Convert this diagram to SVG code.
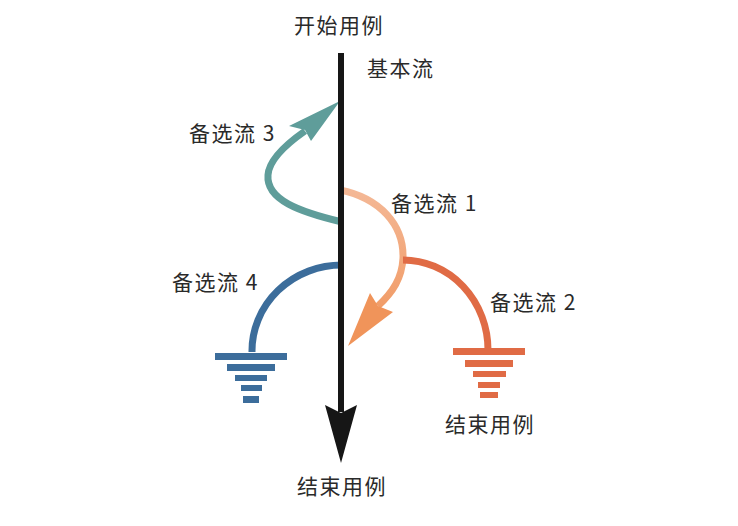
<svg xmlns="http://www.w3.org/2000/svg" width="738" height="526" viewBox="0 0 738 526">
<defs>
<style>
.t{font-family:"Noto Sans CJK SC","Noto Sans",sans-serif;font-size:21px;fill:#2a2a2a;letter-spacing:1.5px}
.c{fill:none;stroke-width:7}
</style>
<linearGradient id="g1" gradientUnits="userSpaceOnUse" x1="0" y1="190" x2="0" y2="345">
<stop offset="0" stop-color="#f4b896"/>
<stop offset="1" stop-color="#f0945a"/>
</linearGradient>
</defs>
<rect width="738" height="526" fill="#ffffff"/>
<g id="connectors">
<g id="alt3">
<path class="c" stroke="#5f9d9a" d="M342,222 C300,212 266,200 268,175 C269,160 285,145 305,131"/>
<polygon points="340,101 289,126 305,130 311,141" fill="#5f9d9a"/>
</g>
<g id="alt1">
<path class="c" stroke="url(#g1)" d="M340,190 C380,198 404,225 403,258 C402,278 393,292 378,306"/>
<polygon points="348,346 370,293 378,306 393,312" fill="#f0945a"/>
</g>
<g id="alt2">
<path class="c" stroke="#e06b45" d="M403,260 A85,90 0 0 1 488,350"/>
</g>
<g id="alt4">
<path class="c" stroke="#3c6d9b" d="M342,265 A90,86 0 0 0 252,352"/>
</g>
<g id="main-flow">
<line x1="341" y1="53" x2="341" y2="412" stroke="#161616" stroke-width="6"/>
<polygon points="341,463 325,405 341,413 357,405" fill="#161616"/>
</g>
</g>
<g id="end-blue" fill="#3c6d9b">
<rect x="215" y="353" width="72" height="7"/>
<rect x="227" y="364" width="48" height="7"/>
<rect x="235" y="375" width="32" height="6"/>
<rect x="241" y="385" width="21" height="6"/>
<rect x="243" y="396" width="16" height="7"/>
</g>
<g id="end-orange" fill="#e06b45">
<rect x="453" y="348" width="72" height="7"/>
<rect x="465" y="360" width="48" height="7"/>
<rect x="473" y="371" width="33" height="6"/>
<rect x="478" y="382" width="22" height="6"/>
<rect x="480" y="392" width="18" height="6"/>
</g>
<g id="label-start"><text class="t" x="339" y="33" text-anchor="middle">开始用例</text></g>
<g id="label-basic"><text class="t" x="367" y="76">基本流</text></g>
<g id="label-alt3"><text class="t" x="189" y="141">备选流 3</text></g>
<g id="label-alt1"><text class="t" x="391" y="211">备选流 1</text></g>
<g id="label-alt4"><text class="t" x="172" y="290">备选流 4</text></g>
<g id="label-alt2"><text class="t" x="490" y="310">备选流 2</text></g>
<g id="label-end-right"><text class="t" x="490" y="432" text-anchor="middle">结束用例</text></g>
<g id="label-end-bottom"><text class="t" x="342" y="494" text-anchor="middle">结束用例</text></g>
</svg>
